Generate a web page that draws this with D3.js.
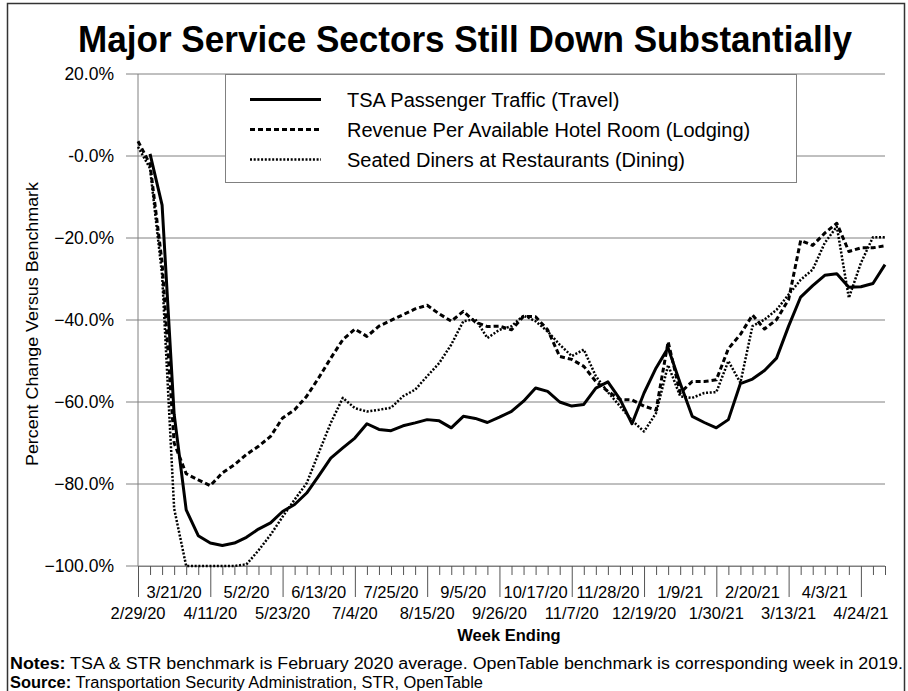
<!DOCTYPE html>
<html lang="en">
<head>
<meta charset="UTF-8">
<title>Major Service Sectors Still Down Substantially</title>
<script src="https://d3js.org/d3.v7.min.js"></script>
<style>
  body { margin: 0; background: #fff; }
  text { font-family: Arial, "Liberation Sans", sans-serif; fill: #000; }
</style>
</head>
<body>
<div id="chart"></div>
<script>
// week-ending labels, one every 3 weeks starting 2/29/20
const dateLabels = ["2/29/20", "3/21/20", "4/11/20", "5/2/20", "5/23/20", "6/13/20", "7/4/20",
  "7/25/20", "8/15/20", "9/5/20", "9/26/20", "10/17/20", "11/7/20", "11/28/20", "12/19/20",
  "1/9/21", "1/30/21", "2/20/21", "3/13/21", "4/3/21", "4/24/21"];
const yTicks = [-100, -80, -60, -40, -20, 0, 20];

// percent change vs benchmark, weekly (63 weeks)
const travel = [null, 0.5, -12, -63, -86.3, -92.6, -94.4, -95, -94.4, -93, -91, -89.5, -86.7, -85,
  -82.2, -78, -73.7, -71.2, -68.8, -65.3, -66.7, -67, -65.8, -65.1, -64.3, -64.6, -66.3, -63.5,
  -64, -65, -63.7, -62.3, -59.8, -56.6, -57.4, -60, -61, -60.6, -56.6, -55.1, -59.3, -65.3,
  -57.8, -51.7, -46.8, -55.4, -63.5, -65, -66.3, -64.3, -55.5, -54.4, -52.3, -49.3, -41.5,
  -34.4, -31.6, -29.1, -28.7, -32, -31.9, -31.1, -26.5];
const lodging = [3.6, -2, -26, -70, -77.5, -79, -80.4, -77.3, -75.3, -72.8, -70.8, -68.4, -63.9,
  -61.9, -58.6, -54.1, -49.3, -44.8, -42.2, -44, -41.5, -40.1, -38.7, -37.3, -36.4, -38.5,
  -40.3, -37.9, -40.5, -41.6, -41.5, -42.4, -39.1, -39.2, -42.4, -48.9, -49.6, -51.3, -55,
  -57.4, -59.4, -59.5, -61, -62, -45.3, -57.8, -55, -55, -54.6, -47, -43.5, -38.8, -42.2,
  -39.9, -35, -20.6, -21.8, -18.8, -16.4, -23.3, -22.4, -22.4, -21.9];
const dining = [2.2, -3, -29, -86, -100, -100, -100, -100, -100, -99.6, -96.2, -92.4, -88, -83.8,
  -79.8, -72.4, -65.1, -59, -61.5, -62.3, -61.9, -61.4, -58.6, -57, -53.7, -50.5, -46, -40.3,
  -39.8, -44.4, -42.4, -41.5, -38.9, -40.3, -42.8, -46, -48.8, -47.2, -53.7, -57.6, -61,
  -64.5, -67.2, -62.7, -51, -58.6, -59, -57.8, -57.6, -50, -55.3, -41.5, -39.9, -37.5, -33.8,
  -30.2, -27.7, -21.2, -17.2, -34.6, -26.1, -19.8, -19.8];

const series = [
  { name: "TSA Passenger Traffic (Travel)", values: travel, dash: null, width: 3 },
  { name: "Revenue Per Available Hotel Room (Lodging)", values: lodging, dash: "5,3", width: 3 },
  { name: "Seated Diners at Restaurants (Dining)", values: dining, dash: "2,1.7", width: 2.5 }
];

const width = 908, height = 691;
const plotLeft = 138, plotRight = 885, plotTop = 74, plotBottom = 566;
const grey = "#808080";

const svg = d3.select("#chart").append("svg")
  .attr("width", width)
  .attr("height", height);

// outer frame
svg.append("rect")
  .attr("x", 7.5).attr("y", 3.5)
  .attr("width", 897).attr("height", 720)
  .attr("fill", "none").attr("stroke", "#333").attr("stroke-width", 1.5);

const x = d3.scaleLinear().domain([0, 62]).range([plotLeft, plotRight]);
const y = d3.scaleLinear().domain([-100, 20]).range([plotBottom, plotTop]);

// title
svg.append("text")
  .attr("x", 465).attr("y", 52)
  .attr("text-anchor", "middle")
  .attr("font-size", 37).attr("font-weight", "bold")
  .attr("textLength", 774).attr("lengthAdjust", "spacingAndGlyphs")
  .text("Major Service Sectors Still Down Substantially");

// horizontal gridlines
svg.append("g").selectAll("line")
  .data(yTicks)
  .join("line")
  .attr("x1", plotLeft - 12).attr("x2", plotRight)
  .attr("y1", d => y(d)).attr("y2", d => y(d))
  .attr("stroke", grey).attr("stroke-width", 1);

// y axis labels
const fmt = d3.format(".1f");
svg.append("g").selectAll("text")
  .data(yTicks)
  .join("text")
  .attr("x", 114).attr("y", d => y(d) + 6)
  .attr("text-anchor", "end")
  .attr("font-size", 17.5)
  .text(d => (d === 0 ? "-0.0" : fmt(d)) + "%");

// left axis line
svg.append("line")
  .attr("x1", plotLeft).attr("x2", plotLeft)
  .attr("y1", plotTop).attr("y2", plotBottom)
  .attr("stroke", grey);

// bottom axis with weekly ticks, long ticks every 6 weeks
const xAxis = svg.append("g")
  .attr("transform", `translate(0,${plotBottom})`)
  .call(d3.axisBottom(x).tickValues(d3.range(0, 63)).tickSize(9).tickSizeOuter(0).tickFormat(""));
xAxis.select(".domain").attr("stroke", grey);
xAxis.selectAll(".tick line")
  .attr("stroke", "#555")
  .attr("y2", d => (d % 6 === 0 ? 31 : 9));

// staggered date labels
svg.append("g").selectAll("text")
  .data(dateLabels)
  .join("text")
  .attr("x", (d, i) => x(i * 3))
  .attr("y", (d, i) => (i % 2 ? 598 : 619))
  .attr("text-anchor", "middle")
  .attr("font-size", 16.5)
  .text(d => d);

// axis titles
svg.append("text")
  .attr("transform", "translate(38,324) rotate(-90)")
  .attr("text-anchor", "middle")
  .attr("font-size", 16)
  .attr("textLength", 284).attr("lengthAdjust", "spacingAndGlyphs")
  .text("Percent Change Versus Benchmark");

svg.append("text")
  .attr("x", 509).attr("y", 641)
  .attr("text-anchor", "middle")
  .attr("font-size", 16.5).attr("font-weight", "bold")
  .text("Week Ending");

// data lines
const line = d3.line()
  .defined(d => d != null)
  .x((d, i) => x(i))
  .y(d => y(d));

svg.append("g").selectAll("path")
  .data(series)
  .join("path")
  .attr("d", d => line(d.values))
  .attr("fill", "none")
  .attr("stroke", "#000")
  .attr("stroke-width", d => d.width)
  .attr("stroke-dasharray", d => d.dash)
  .attr("stroke-linejoin", "round");

// legend
const legend = svg.append("g");
legend.append("rect")
  .attr("x", 225.5).attr("y", 74.5)
  .attr("width", 571).attr("height", 108)
  .attr("fill", "#fff").attr("stroke", grey);

const rows = legend.selectAll("g")
  .data(series)
  .join("g")
  .attr("transform", (d, i) => `translate(0,${99.5 + i * 30})`);
rows.append("line")
  .attr("x1", 250).attr("x2", 321)
  .attr("stroke", "#000")
  .attr("stroke-width", d => d.width)
  .attr("stroke-dasharray", d => d.dash);
rows.append("text")
  .attr("x", 347).attr("y", 7)
  .attr("font-size", 20)
  .text(d => d.name);

// notes
const notes = svg.append("text")
  .attr("x", 10).attr("y", 669)
  .attr("font-size", 16)
  .attr("textLength", 893).attr("lengthAdjust", "spacingAndGlyphs");
notes.append("tspan").attr("font-weight", "bold").text("Notes:");
notes.append("tspan").text(" TSA & STR benchmark is February 2020 average. OpenTable benchmark is corresponding week in 2019.");

const source = svg.append("text")
  .attr("x", 10).attr("y", 688)
  .attr("font-size", 16)
  .attr("textLength", 473).attr("lengthAdjust", "spacingAndGlyphs");
source.append("tspan").attr("font-weight", "bold").text("Source:");
source.append("tspan").text(" Transportation Security Administration, STR, OpenTable");
</script>
</body>
</html>
